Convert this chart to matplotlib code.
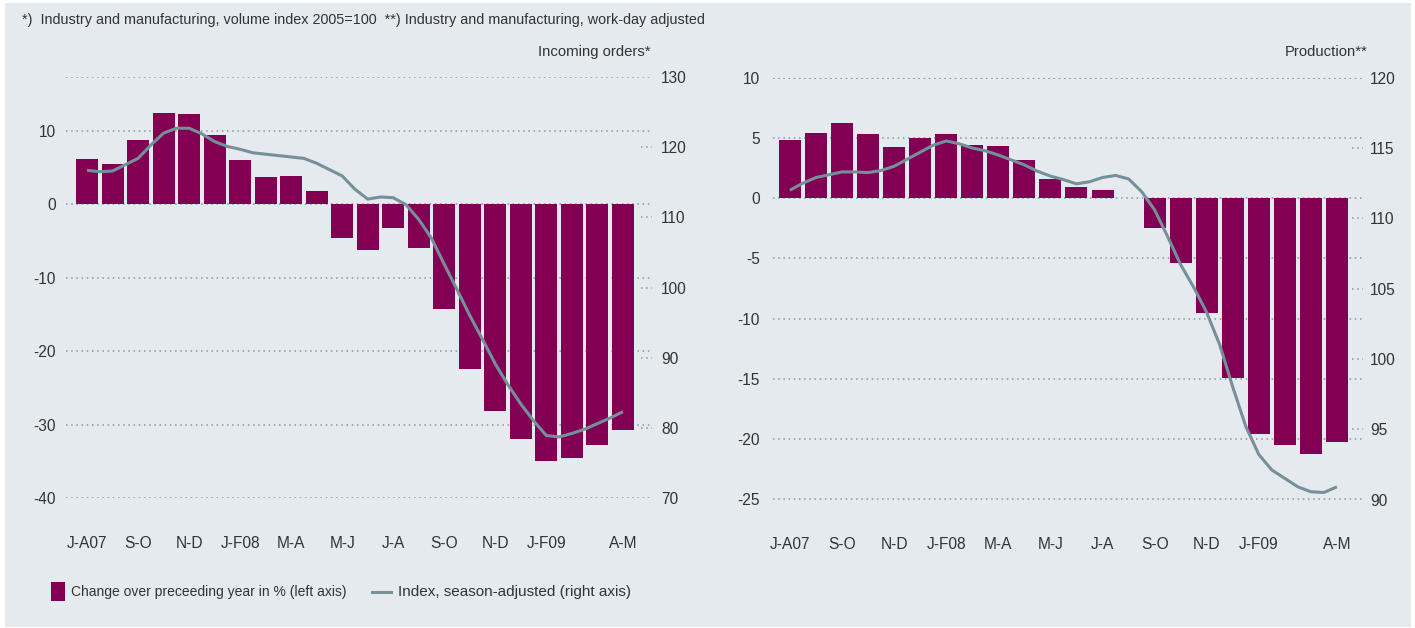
import matplotlib
matplotlib.use('Agg')
import matplotlib.pyplot as plt
from matplotlib.patches import Rectangle
from matplotlib.lines import Line2D

# ---------------- data ----------------
n_months = 22
tick_pos = [0, 2, 4, 6, 8, 10, 12, 14, 16, 18, 21]
tick_labels = ['J-A07', 'S-O', 'N-D', 'J-F08', 'M-A', 'M-J', 'J-A', 'S-O', 'N-D', 'J-F09', 'A-M']

# Incoming orders: change over preceding year in % (left axis)
orders_change = [6.1, 5.5, 8.7, 12.4, 12.3, 9.4, 6.0, 3.7, 3.8, 1.8, -4.6, -6.3,
                 -3.2, -6.0, -14.3, -22.5, -28.2, -32.0, -34.9, -34.5, -32.8, -30.8]
# Incoming orders: index, season-adjusted (right axis), sampled every half month step
orders_index = [116.7, 116.5, 116.6, 117.5, 118.4, 120.3, 122.0, 122.7, 122.7, 121.9,
                120.8, 120.1, 119.7, 119.2, 119.0, 118.8, 118.6, 118.4, 117.7, 116.8,
                115.9, 114.0, 112.6, 112.9, 112.8, 111.8, 109.7, 107.0, 103.3, 99.7,
                96.0, 92.6, 89.1, 86.1, 83.4, 81.0, 78.9, 78.7, 79.2, 79.8,
                80.6, 81.4, 82.3]

# Production: change over preceding year in % (left axis)
prod_change = [4.85, 5.43, 6.27, 5.35, 4.27, 5.02, 5.35, 4.44, 4.36, 3.2, 1.62, 0.95,
               0.7, 0.0, -2.5, -5.4, -9.5, -14.95, -19.6, -20.5, -21.2, -20.2]
# Production: index, season-adjusted (right axis), half month steps
prod_index = [112.0, 112.5, 112.9, 113.1, 113.3, 113.3, 113.25, 113.4, 113.7, 114.2,
              114.7, 115.2, 115.5, 115.3, 115.0, 114.8, 114.5, 114.15, 113.8, 113.35,
              113.0, 112.75, 112.45, 112.6, 112.9, 113.05, 112.8, 111.9, 110.6, 108.7,
              106.7, 105.1, 103.3, 101.0, 98.0, 95.2, 93.2, 92.1, 91.5, 90.9,
              90.55, 90.5, 90.9]

header = '*)  Industry and manufacturing, volume index 2005=100  **) Industry and manufacturing, work-day adjusted'
title_left = 'Incoming orders*'
title_right = 'Production**'
legend_bar = 'Change over preceeding year in % (left axis)'
legend_line = 'Index, season-adjusted (right axis)'

# ---------------- style ----------------
W, H = 1415, 628
BG = '#e5eaee'
BAR = '#820053'
LINE = '#76909b'
GRID = '#7f9aa5'
TXT = '#333333'
FS_TICK = 11.2
FS_TITLE = 10.7
FS_HEAD = 10.4
FS_LEG1 = 10.0
FS_LEG2 = 11.0
DOT = (0, (1.0, 2.4))

plt.rcParams['font.family'] = ['Liberation Sans', 'DejaVu Sans']

fig = plt.figure(figsize=(W / 100, H / 100), dpi=100, facecolor='white')
fig.patches.append(Rectangle((5 / W, 1 - 627 / H), 1406 / W, 624 / H,
                             transform=fig.transFigure, facecolor=BG, edgecolor='none', zorder=-10))


def fx(x):
    return x / W


def fy(y):
    return 1 - y / H


def make_panel(rect, xlim, bar_vals, line_vals, lylim, lticks, rylim, rticks, rticks_short,
               lpad, rpad, bar_w, title, title_x):
    ax = fig.add_axes(rect)
    ax.set_facecolor('none')
    idx = list(range(n_months))
    ax.bar(idx, bar_vals, width=bar_w, color=BAR, zorder=2)
    ax.set_xlim(*xlim)
    ax.set_ylim(*lylim)
    ax.set_yticks(lticks)
    ax.set_yticklabels([str(v) for v in lticks])
    ax.yaxis.grid(True, linestyle=DOT, color=GRID, linewidth=1.1)
    ax.set_axisbelow(True)
    ax.set_xticks(tick_pos)
    ax.set_xticklabels(tick_labels)
    ax.tick_params(axis='x', length=0, pad=27, labelsize=FS_TICK, colors=TXT)
    ax.tick_params(axis='y', length=0, pad=lpad, labelsize=FS_TICK, colors=TXT)
    for s in ax.spines.values():
        s.set_visible(False)

    axr = ax.twinx()
    axr.set_ylim(*rylim)
    axr.set_yticks(rticks)
    axr.set_yticklabels([str(v) for v in rticks])
    axr.tick_params(axis='y', length=0, pad=rpad, labelsize=FS_TICK, colors=TXT)
    for s in axr.spines.values():
        s.set_visible(False)
    tr = axr.get_yaxis_transform()
    for v in rticks_short:
        axr.plot([0.982, 1.0], [v, v], transform=tr, linestyle=DOT, color=GRID,
                 linewidth=1.1, clip_on=False)
    axr.axhline(rylim[1], linestyle=DOT, color=GRID, linewidth=1.1)
    xs = [i * 0.5 for i in range(len(line_vals))]
    axr.plot(xs, line_vals, color=LINE, linewidth=2.2, solid_capstyle='butt', zorder=3)
    fig.text(title_x, fy(52), title, ha='right', va='center', fontsize=FS_TITLE, color=TXT)
    return ax, axr


make_panel([fx(65.6), fy(498), fx(652 - 65.6), (498 - 77) / H], (-0.84, 22.14),
           orders_change, orders_index, (-40, 17.3), [10, 0, -10, -20, -30, -40],
           (70, 130), [70, 80, 90, 100, 110, 120, 130], [80, 90, 100, 110, 120],
           7, 6.5, 0.86, title_left, fx(651))

make_panel([fx(773), fy(499.5), fx(1363 - 773), (499.5 - 77.7) / H], (-0.65, 22.0),
           prod_change, prod_index, (-25, 10), [10, 5, 0, -5, -10, -15, -20, -25],
           (90, 120), [90, 95, 100, 105, 110, 115, 120], [95, 100, 105, 110, 115],
           9.5, 5, 0.845, title_right, fx(1368))

fig.text(fx(22), fy(20), header, ha='left', va='center', fontsize=FS_HEAD, color=TXT)

# legend
fig.patches.append(Rectangle((fx(51), fy(601)), 14 / W, 19 / H, transform=fig.transFigure,
                             facecolor=BAR, edgecolor='none'))
fig.text(fx(71), fy(592), legend_bar, ha='left', va='center', fontsize=FS_LEG1, color=TXT)
fig.lines.append(Line2D([fx(372), fx(391)], [fy(592), fy(592)], transform=fig.transFigure,
                        color=LINE, linewidth=2.2))
fig.text(fx(398), fy(592), legend_line, ha='left', va='center', fontsize=FS_LEG2, color=TXT)

fig.savefig('out.png', dpi=100, facecolor='white')
